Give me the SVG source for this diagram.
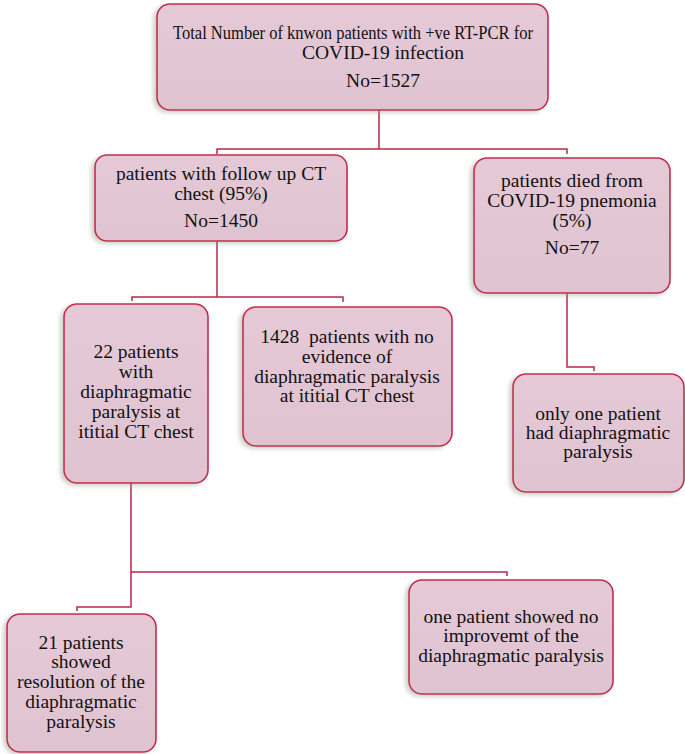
<svg xmlns="http://www.w3.org/2000/svg" width="685" height="754" viewBox="0 0 685 754">
<defs>
<linearGradient id="g" x1="0" y1="0" x2="0" y2="1">
<stop offset="0" stop-color="#e6c9d7"/>
<stop offset="1" stop-color="#e0c3d1"/>
</linearGradient>
<filter id="sh" x="-10%" y="-10%" width="120%" height="120%">
<feDropShadow dx="-3" dy="2" stdDeviation="2" flood-color="#8a9a8a" flood-opacity="0.45"/>
</filter>
</defs>
<style>
.box{fill:url(#g);stroke:#c42c4e;stroke-width:1.6;filter:url(#sh)}
.t{font-family:"Liberation Serif","Times New Roman",serif;font-size:19.5px;fill:#111;text-anchor:middle}
.c{fill:none;stroke:#b8294c;stroke-width:1.5}
</style>
<rect width="685" height="754" fill="#ffffff"/>
<g id="connectors">
<path class="c" d="M379,110 V149 M217,154 V149 H567 V154"/>
<path class="c" d="M217,241 V297 M132,301 V297 H343 V302"/>
<path class="c" d="M567,293 V367 H594 V371"/>
<path class="c" d="M131,483 V607 H77 V611 M131,572 H507 V576"/>
</g>
<g id="n-total">
<rect class="box" x="157" y="4" width="391" height="106" rx="13"/>
<text class="t" x="353" y="39" textLength="360" lengthAdjust="spacingAndGlyphs">Total Number of knwon patients with +ve RT-PCR for</text>
<text class="t" x="383" y="59">COVID-19 infection</text>
<text class="t" x="383" y="87">No=1527</text>
</g>
<g id="n-followup">
<rect class="box" x="95" y="155" width="252" height="86" rx="12"/>
<text class="t" x="221" y="180">patients with follow up CT</text>
<text class="t" x="221" y="200">chest (95%)</text>
<text class="t" x="221" y="227">No=1450</text>
</g>
<g id="n-died">
<rect class="box" x="474" y="158" width="196" height="135" rx="13"/>
<text class="t" x="572" y="187">patients died from</text>
<text class="t" x="572" y="207">COVID-19 pnemonia</text>
<text class="t" x="572" y="227">(5%)</text>
<text class="t" x="572" y="254">No=77</text>
</g>
<g id="n-onlyone">
<rect class="box" x="513" y="374" width="171" height="118" rx="13"/>
<text class="t" x="598" y="420">only one patient</text>
<text class="t" x="598" y="439">had diaphragmatic</text>
<text class="t" x="598" y="458">paralysis</text>
</g>
<g id="n-22">
<rect class="box" x="64" y="304" width="144" height="179" rx="13"/>
<text class="t" x="136" y="358">22 patients</text>
<text class="t" x="136" y="378">with</text>
<text class="t" x="136" y="398">diaphragmatic</text>
<text class="t" x="136" y="418">paralysis at</text>
<text class="t" x="136" y="438">ititial CT chest</text>
</g>
<g id="n-1428">
<rect class="box" x="243" y="307" width="209" height="139" rx="13"/>
<text class="t" x="347" y="343" xml:space="preserve">1428  patients with no</text>
<text class="t" x="347" y="363">evidence of</text>
<text class="t" x="347" y="383">diaphragmatic paralysis</text>
<text class="t" x="347" y="402">at ititial CT chest</text>
</g>
<g id="n-21">
<rect class="box" x="7" y="614" width="149" height="138" rx="13"/>
<text class="t" x="81" y="649">21 patients</text>
<text class="t" x="81" y="668">showed</text>
<text class="t" x="81" y="688">resolution of the</text>
<text class="t" x="81" y="708">diaphragmatic</text>
<text class="t" x="81" y="728">paralysis</text>
</g>
<g id="n-noimprove">
<rect class="box" x="409" y="580" width="204" height="114" rx="13"/>
<text class="t" x="511" y="623">one patient showed no</text>
<text class="t" x="511" y="642">improvemt of the</text>
<text class="t" x="511" y="662">diaphragmatic paralysis</text>
</g>
</svg>
